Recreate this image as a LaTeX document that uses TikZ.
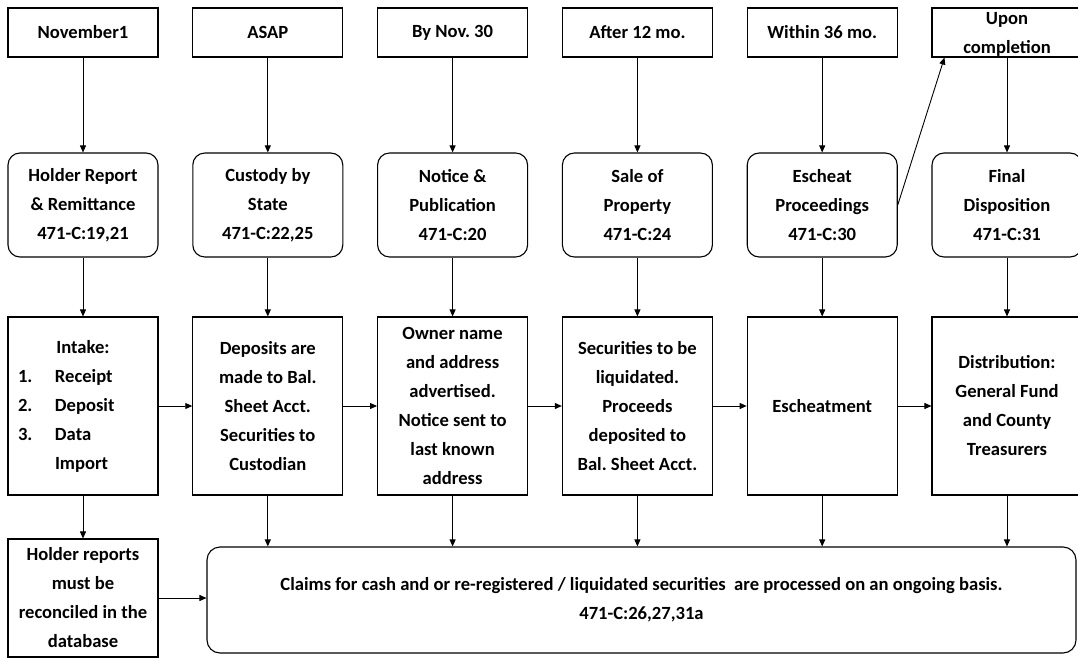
\documentclass[tikz,border=0pt]{standalone}
\usepackage{fontspec}
\setmainfont{Carlito}
\frenchspacing
\usetikzlibrary{arrows.meta}
\tikzset{
	box/.style={draw,line width=1.1pt,minimum width=150pt,inner sep=0pt,align=center,font=\bfseries\fontsize{18.6}{29}\selectfont},
	when/.style={box,minimum height=49pt},
	stage/.style={box,rounded corners=12pt,minimum height=104pt},
	task/.style={box,minimum height=178pt},
	flow/.style={line width=.9pt,-{Triangle[length=7pt,width=6pt]}}
}
\newcommand\lowtext[1]{\raisebox{-7pt}[0pt][0pt]{#1}}
\begin{document}
\begin{tikzpicture}[x=1pt,y=-1pt]
\useasboundingbox (0,0) rectangle (1078,658);
\foreach \i/\w in {1/November1,2/ASAP,3/By Nov. 30,4/After 12 mo.,5/Within 36 mo.,6/{\lowtext{Upon}\\\lowtext{completion}}}
	\node[when] (w\i) at ({83+184.8*(\i-1)},32.5) {\w};
\foreach \i/\s in {1/{Holder Report\\\& Remittance\\471-C:19,21},2/{Custody by\\State\\471-C:22,25},3/{Notice \&\\Publication\\471-C:20},4/{Sale of\\Property\\471-C:24},5/{Escheat\\Proceedings\\471-C:30},6/{Final\\Disposition\\471-C:31}}
	\node[stage] (s\i) at ({83+184.8*(\i-1)},205) {\s};
\node[task,text width=130pt,align=left] (m1) at (83,406) {\makebox[130pt]{Intake:}\\\makebox[37pt][l]{1.}Receipt\\\makebox[37pt][l]{2.}Deposit\\\makebox[37pt][l]{3.}Data\\\hspace*{37pt}Import};
\foreach \i/\t in {2/{Deposits are\\made to Bal.\\Sheet Acct.\\Securities to\\Custodian},3/{Owner name\\and address\\advertised.\\Notice sent to\\last known\\address},4/{Securities to be\\liquidated.\\Proceeds\\deposited to\\Bal. Sheet Acct.},5/Escheatment,6/{Distribution:\\General Fund\\and County\\Treasurers}}
	\node[task] (m\i) at ({83+184.8*(\i-1)},406) {\t};
\node[box,minimum height=118pt] (h) at (83,598) {Holder reports\\must be\\reconciled in the\\database};
\node[box,rounded corners=13pt,minimum width=869pt,minimum height=106pt] (c) at (641.5,600) {Claims for cash and or re-registered / liquidated securities\ \ are processed on an ongoing basis.\\471-C:26,27,31a};
\foreach \i in {1,...,6}{
	\draw[flow] (w\i) -- (s\i);
	\draw[flow] (s\i) -- (m\i);
}
\foreach \i [count=\j from 2] in {1,...,5}
	\draw[flow] (m\i) -- (m\j);
\foreach \i in {2,...,6}
	\draw[flow] (m\i) -- (m\i |- c.north);
\draw[flow] (m1) -- (h);
\draw[flow] (h.east) -- (h.east -| c.west);
\draw[flow] (s5.east) -- ([xshift=13pt]w6.south west);
\end{tikzpicture}
\end{document}
